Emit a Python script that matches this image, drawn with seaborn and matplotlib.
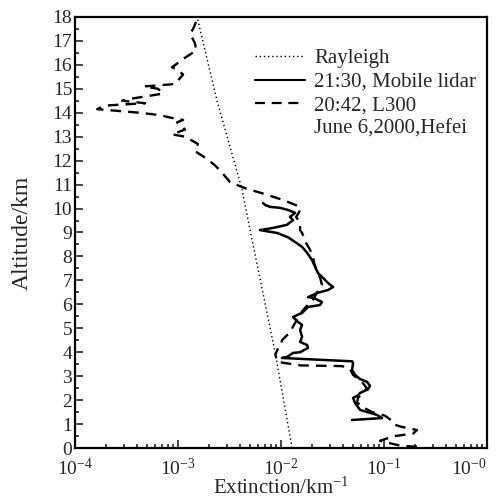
import numpy as np
import matplotlib
matplotlib.use('Agg')
import matplotlib.pyplot as plt
import seaborn as sns
from matplotlib.lines import Line2D
from matplotlib.ticker import LogLocator, NullFormatter, MultipleLocator

# Rayleigh extinction (km^-1) vs altitude (km)
ray_alt = [0, 4, 9.1, 10.8, 14.5, 18]
ray_ext = [1.28e-2, 8.75e-3, 5.0e-3, 4.18e-3, 2.39e-3, 1.53e-3]

# 21:30 Mobile lidar
mob_alt = [1.17, 1.25, 1.38, 1.59, 1.88, 2.09, 2.2, 2.3, 2.45, 2.6, 2.76, 2.88,
           3.05, 3.26, 3.55, 3.62, 3.76, 3.8, 3.97, 4.0, 4.18, 4.3, 4.43, 4.64,
           4.93, 5.14, 5.26, 5.47, 5.55, 5.64, 5.89, 5.97, 6.1, 6.27, 6.3, 6.47,
           6.6, 6.72, 6.89, 7.1, 7.3, 7.56, 7.85, 8.15, 8.4, 8.6, 8.8, 8.98,
           9.1, 9.19, 9.32, 9.52, 9.65, 9.82, 9.94, 10.03, 10.07, 10.15, 10.23]
mob_ext = [4.89e-2, 9.57e-2, 8.55e-2, 5.85e-2, 5.23e-2, 5.0e-2, 5.6e-2, 5.85e-2,
           7.0e-2, 7.3e-2, 6.84e-2, 5.85e-2, 5.23e-2, 4.89e-2, 5.0e-2, 4.9e-2,
           1.02e-2, 1.14e-2, 1.31e-2, 1.53e-2, 1.83e-2, 1.79e-2, 1.53e-2, 1.6e-2,
           1.53e-2, 1.6e-2, 1.46e-2, 1.31e-2, 1.43e-2, 1.6e-2, 1.83e-2, 2.39e-2,
           2.5e-2, 2.05e-2, 1.83e-2, 2.24e-2, 2.86e-2, 3.2e-2, 2.86e-2, 2.56e-2,
           2.29e-2, 2.14e-2, 2.0e-2, 1.79e-2, 1.6e-2, 1.37e-2, 1.17e-2, 9.15e-3,
           6.25e-3, 8.36e-3, 1.14e-2, 1.31e-2, 1.22e-2, 1.37e-2, 1.17e-2, 9.77e-3,
           7.82e-3, 7.0e-3, 6.68e-3]

# 20:42 L300
l300_alt = [0.05, 0.1, 0.2, 0.3, 0.4, 0.5, 0.6, 0.75, 0.9, 1.0, 1.2, 1.35, 1.5,
            1.7, 1.9, 2.1, 2.3, 2.5, 2.8, 3.05, 3.3, 3.42, 3.45, 3.6, 3.9, 4.1,
            4.3, 4.5, 4.8, 5.0, 5.3, 5.6, 5.9, 6.2, 6.5, 6.8, 7.1, 7.4, 7.7,
            7.98, 8.3, 8.56, 8.98, 9.1, 9.4, 9.65, 9.85, 10.07, 10.36, 10.6,
            10.85, 11.1, 11.5, 11.8, 12.1, 12.4, 12.7, 13.0, 13.1, 13.3, 13.6,
            13.7, 13.8, 13.9, 14.0, 14.15, 14.3, 14.4, 14.5, 14.6, 14.8, 15.0,
            15.1, 15.2, 15.6, 15.8, 15.9, 16.3, 16.6, 16.9, 17.3, 17.5, 17.9]
l300_ext = [0.209, 0.143, 0.114, 0.0915, 0.107, 0.128, 0.191, 0.209, 0.143, 0.122,
            0.114, 0.102, 0.0764, 0.0625, 0.0547, 0.056, 0.0625, 0.068, 0.06, 0.05,
            0.0468, 0.0391, 0.0153, 0.0092, 0.0088, 0.0092, 0.0100, 0.0102, 0.0120,
            0.0128, 0.0140, 0.0153, 0.0175, 0.0205, 0.0224, 0.0250, 0.0240, 0.0224,
            0.0210, 0.0205, 0.0190, 0.0175, 0.0160, 0.0153, 0.0153, 0.0140, 0.0150,
            0.0153, 0.0104, 0.0070, 0.00447, 0.0032, 0.00267, 0.00229, 0.00187,
            0.00146, 0.00156, 0.00117, 0.000874, 0.00117, 0.000977, 0.00112,
            0.000835, 0.000668, 0.000428, 0.000164, 0.000196, 0.000479, 0.000286,
            0.000366, 0.000714, 0.000640, 0.000468, 0.000935, 0.00112, 0.000977,
            0.000874, 0.00117, 0.00150, 0.00146, 0.00131, 0.00140, 0.00153]

xtick_vals = [1e-4, 1e-3, 1e-2, 1e-1, 1e0]
xtick_labels = [r'$\mathregular{10^{-4}}$', r'$\mathregular{10^{-3}}$',
                r'$\mathregular{10^{-2}}$', r'$\mathregular{10^{-1}}$',
                r'$\mathregular{10^{-0}}$']

sns.set_style('ticks')
plt.rcParams['font.family'] = 'serif'
plt.rcParams['font.serif'] = ['Liberation Serif', 'DejaVu Serif']
plt.rcParams['mathtext.fontset'] = 'custom'
plt.rcParams['mathtext.rm'] = 'Liberation Serif'
plt.rcParams['mathtext.it'] = 'Liberation Serif'

fig = plt.figure(figsize=(4.97, 4.98), dpi=100)
ax = fig.add_axes([0.151, 0.1004, 0.829, 0.8655])

sns.lineplot(x=ray_ext, y=ray_alt, sort=False, estimator=None, ax=ax,
             color='black', lw=1.0, linestyle=(0, (1, 2)))
sns.lineplot(x=mob_ext, y=mob_alt, sort=False, estimator=None, ax=ax,
             color='black', lw=1.8)
sns.lineplot(x=l300_ext, y=l300_alt, sort=False, estimator=None, ax=ax,
             color='black', lw=1.7, linestyle=(0, (4.5, 3)))

ax.set_xscale('log')
ax.set_xlim(1e-4, 1e0)
ax.set_ylim(0, 18)
ax.set_xticks(xtick_vals)
ax.set_xticklabels(xtick_labels)
ax.get_xticklabels()[-1].set_horizontalalignment('right')
ax.xaxis.set_minor_locator(LogLocator(base=10, subs=np.arange(2, 10)))
ax.xaxis.set_minor_formatter(NullFormatter())
ax.yaxis.set_major_locator(MultipleLocator(1))
ax.yaxis.set_minor_locator(MultipleLocator(0.5))

ax.tick_params(which='both', direction='in', top=False, right=False, labelsize=14,
               width=1.2)
ax.tick_params(axis='y', pad=2)
ax.tick_params(axis='x', pad=7)
ax.tick_params(which='major', length=6)
ax.tick_params(which='minor', length=3)
for s in ax.spines.values():
    s.set_linewidth(1.6)
    s.set_color('black')

ax.set_xlabel(r'Extinction/km$^{\mathregular{-1}}$', fontsize=15)
ax.xaxis.set_label_coords(0.5, -0.068)
ax.set_ylabel('Altitude/km', fontsize=17, labelpad=14)

handles = [Line2D([], [], color='black', lw=1.0, linestyle=(0, (1, 2))),
           Line2D([], [], color='black', lw=1.5),
           Line2D([], [], color='black', lw=1.6, linestyle=(0, (4.5, 3))),
           Line2D([], [], color='none')]
labels = ['Rayleigh', '21:30, Mobile lidar', '20:42, L300', 'June 6,2000,Hefei']
ax.legend(handles, labels, loc='upper left', bbox_to_anchor=(0.437, 0.926),
          frameon=False, fontsize=15, handlelength=2.4, handletextpad=0.45,
          labelspacing=0.18, borderaxespad=0, borderpad=0)

fig.savefig('out.png', dpi=100)
